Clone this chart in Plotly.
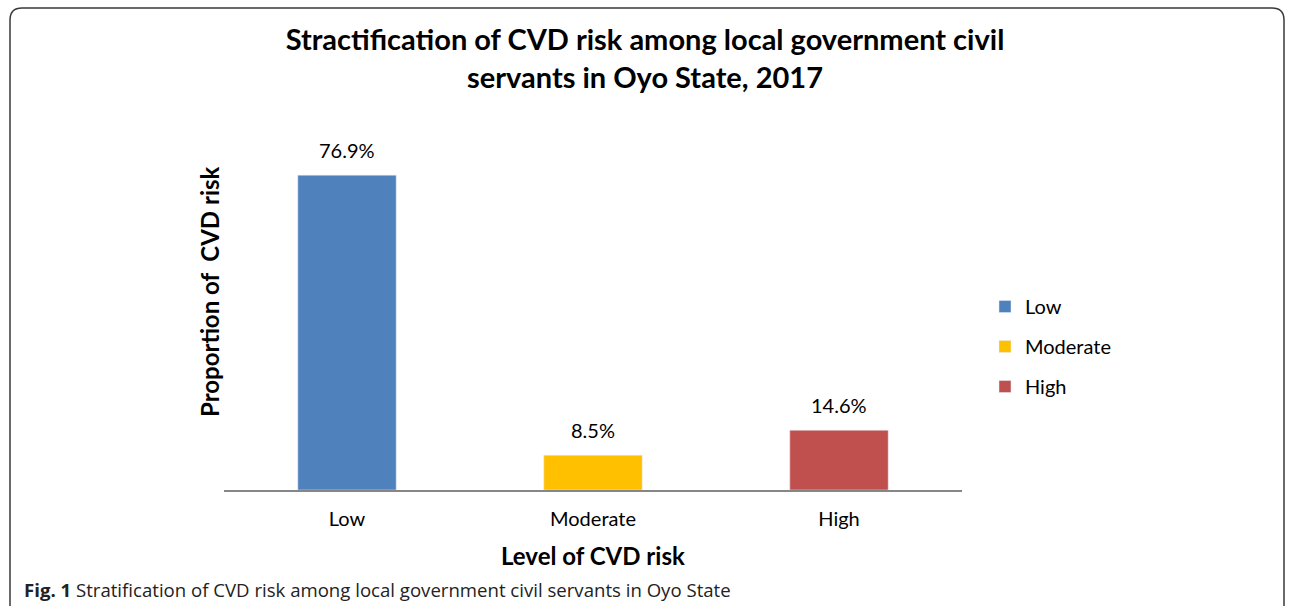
import plotly.graph_objects as go

categories = ["Low", "Moderate", "High"]
values = [76.9, 8.5, 14.6]
colors = ["#4F81BD", "#FFC000", "#C0504D"]
labels = ["76.9%", "8.5%", "14.6%"]

W, H = 1290, 607
L, R, T, B = 224, 328, 142, 117
pw, ph = W - L - R, H - T - B

def px(x):
    return (x - L) / pw

def py(y):
    return (H - B - y) / ph

fig = go.Figure()
for c, v, col in zip(categories, values, colors):
    fig.add_trace(go.Bar(
        x=[c], y=[v], name=c, marker_color=col, width=0.4,
        legendgroup=c, offsetgroup="a", cliponaxis=False,
    ))

value_labels = [dict(x=c, y=v, text=lab, xref="x", yref="y", yanchor="bottom",
                     yshift=11, showarrow=False,
                     font=dict(size=20, color="#000", family="Lato"))
                for c, v, lab in zip(categories, values, labels)]

frame = (f"M {px(10)},{py(606)} L {px(10)},{py(20)} Q {px(10)},{py(8)} {px(22)},{py(8)} "
         f"L {px(1272)},{py(8)} Q {px(1284)},{py(8)} {px(1284)},{py(20)} L {px(1284)},{py(606)}")

fig.update_layout(
    width=W, height=H,
    margin=dict(l=L, r=R, t=T, b=B, pad=0),
    plot_bgcolor="white", paper_bgcolor="white",
    font=dict(family="Lato", color="#000"),
    barmode="overlay",
    title=dict(text="<b>Stractification of CVD risk among local government civil<br>servants in Oyo State, 2017</b>",
               x=(645) / W, xanchor="center", y=1 - 50 / H, yanchor="middle",
               font=dict(size=29, family="Lato", color="#000")),
    xaxis=dict(categoryorder="array", categoryarray=categories,
               showline=True, linecolor="#868686", linewidth=2, ticks="",
               tickfont=dict(size=20), showgrid=False, ticklabelstandoff=10),
    yaxis=dict(range=[0, 85], visible=True, showticklabels=False, showgrid=False,
               zeroline=False, showline=False),
    legend=dict(x=px(985), xanchor="left", y=py(287), yanchor="top",
                font=dict(size=20), tracegroupgap=11, itemwidth=30),
    shapes=[dict(type="path", path=frame, xref="paper", yref="paper",
                 line=dict(color="#3a3a3a", width=1.5))],
    annotations=value_labels + [
        dict(text="<b>Fig. 1</b> Stratification of CVD risk among local government civil servants in Oyo State",
             xref="paper", yref="paper", x=px(22), y=py(589), xanchor="left", yanchor="middle",
             showarrow=False, font=dict(size=18.6, family="Open Sans", color="#222")),
        dict(text="<b>Proportion of  CVD risk</b>", textangle=-90,
             xref="paper", yref="paper", x=px(209), y=py(292), xanchor="center", yanchor="middle",
             showarrow=False, font=dict(size=24, family="Lato", color="#000")),
        dict(text="<b>Level of CVD risk</b>",
             xref="paper", yref="paper", x=px(593), y=py(555), xanchor="center", yanchor="middle",
             showarrow=False, font=dict(size=24, family="Lato", color="#000")),
    ],
)
fig.write_html("out.html")
